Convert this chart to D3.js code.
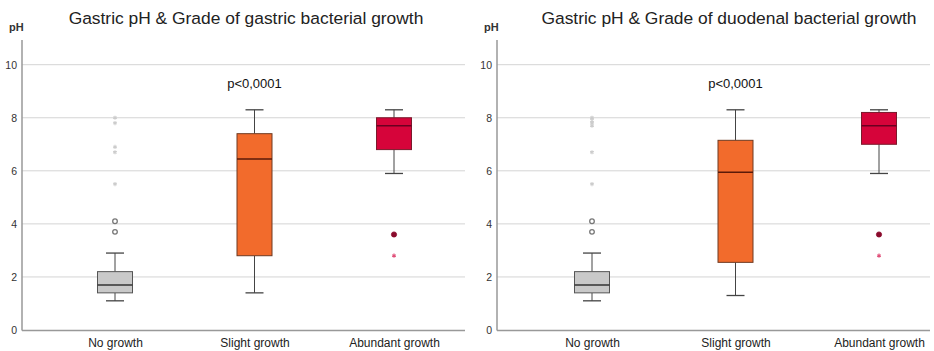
<!DOCTYPE html>
<html>
<head>
<meta charset="utf-8">
<script src="https://cdn.jsdelivr.net/npm/d3@7"></script>
<style>
  body { margin: 0; background: #fff; }
  text { font-family: "Liberation Sans", Arial, sans-serif; }
</style>
</head>
<body>
<div id="chart"></div>
<script>
// categories and tick labels
const categories = ["No growth", "Slight growth", "Abundant growth"];
const yTicks = [0, 2, 4, 6, 8, 10];
const titles = ["Gastric pH & Grade of gastric bacterial growth",
                "Gastric pH & Grade of duodenal bacterial growth"];
const pLabel = "p<0,0001";

// box stats per category: [whiskerLow, q1, median, q3, whiskerHigh]
const gastricBoxes = [
  [1.1, 1.4, 1.7, 2.2, 2.9],
  [1.4, 2.8, 6.45, 7.4, 8.3],
  [5.9, 6.8, 7.7, 8.0, 8.3]
];
const duodenalBoxes = [
  [1.1, 1.4, 1.7, 2.2, 2.9],
  [1.3, 2.55, 5.95, 7.15, 8.3],
  [5.9, 7.0, 7.7, 8.2, 8.3]
];
// outliers (circles) and extremes (stars)
const gastricOutliers = [[4.1, 3.7], [], [3.6]];
const gastricExtremes = [[8.0, 7.8, 6.9, 6.7, 5.5], [], [2.8]];
const duodenalOutliers = [[4.1, 3.7], [], [3.6]];
const duodenalExtremes = [[8.0, 7.9, 7.8, 7.7, 6.7, 5.5], [], [2.8]];

const boxFill = ["#c9c9c9", "#f26b2c", "#d6043a"];
const boxStroke = ["#555", "#6e3a22", "#7a1a2c"];
const medianStroke = ["#333", "#5a1a08", "#6a0020"];
const outlierColor = ["#777", "#777", "#8a0a2c"];
const extremeColor = ["#ccc", "#ccc", "#e0507a"];

const width = 934, height = 351;
const svg = d3.select("#chart").append("svg")
  .attr("width", width).attr("height", height);

const y = d3.scaleLinear().domain([0, 10]).range([330, 64.7]);

function drawPanel(ox, gridEnd, xFirst, xStep, title, titleX, boxes, outliers, extremes) {
  const g = svg.append("g");
  const x = d3.scalePoint().domain(categories)
    .range([xFirst, xFirst + 2 * xStep]);

  // gridlines
  g.append("g").selectAll("line").data(yTicks.filter(d => d > 0)).join("line")
    .attr("x1", ox).attr("x2", gridEnd)
    .attr("y1", d => y(d)).attr("y2", d => y(d))
    .attr("stroke", "#d4d4d4").attr("stroke-width", 1);

  // y axis
  const ya = g.append("g").attr("transform", `translate(${ox},0)`)
    .call(d3.axisLeft(y).tickValues(yTicks).tickSize(0).tickPadding(5));
  ya.select(".domain").remove();
  ya.selectAll("text").attr("font-size", 10.5).attr("fill", "#333");
  g.append("line").attr("x1", ox).attr("x2", ox).attr("y1", 40).attr("y2", 330.5)
    .attr("stroke", "#999").attr("stroke-width", 1.5);
  g.append("line").attr("x1", ox).attr("x2", gridEnd).attr("y1", 330.5).attr("y2", 330.5)
    .attr("stroke", "#999").attr("stroke-width", 1.5);

  // x axis labels
  const xa = g.append("g").attr("transform", "translate(0,330)")
    .call(d3.axisBottom(x).tickSize(0).tickPadding(8));
  xa.select(".domain").remove();
  xa.selectAll("text").attr("font-size", 12).attr("fill", "#222");

  // pH label + title
  g.append("text").attr("x", ox - 13).attr("y", 31)
    .attr("font-size", 11).attr("font-weight", "bold").attr("fill", "#333").text("pH");
  g.append("text").attr("x", titleX).attr("y", 24).attr("text-anchor", "middle")
    .attr("font-size", 17.4).attr("fill", "#222").text(title);
  g.append("text").attr("x", x("Slight growth")).attr("y", 88).attr("text-anchor", "middle")
    .attr("font-size", 13).attr("fill", "#111").text(pLabel);

  const bw = 35, cap = 18;
  categories.forEach((c, i) => {
    const [lo, q1, med, q3, hi] = boxes[i];
    const cx = x(c);
    const bg = g.append("g");
    bg.append("line").attr("x1", cx).attr("x2", cx).attr("y1", y(hi)).attr("y2", y(q3))
      .attr("stroke", "#444");
    bg.append("line").attr("x1", cx).attr("x2", cx).attr("y1", y(q1)).attr("y2", y(lo))
      .attr("stroke", "#444");
    bg.selectAll(".cap").data([lo, hi]).join("line")
      .attr("x1", cx - cap / 2).attr("x2", cx + cap / 2)
      .attr("y1", d => y(d)).attr("y2", d => y(d))
      .attr("stroke", "#444").attr("stroke-width", 1.3);
    bg.append("rect").attr("x", cx - bw / 2).attr("width", bw)
      .attr("y", y(q3)).attr("height", y(q1) - y(q3))
      .attr("fill", boxFill[i]).attr("stroke", boxStroke[i]);
    bg.append("line").attr("x1", cx - bw / 2).attr("x2", cx + bw / 2)
      .attr("y1", y(med)).attr("y2", y(med))
      .attr("stroke", medianStroke[i]).attr("stroke-width", 1.5);

    bg.selectAll(".out").data(outliers[i]).join("circle")
      .attr("cx", cx).attr("cy", d => y(d)).attr("r", i === 2 ? 2.6 : 2.3)
      .attr("fill", i === 2 ? outlierColor[i] : "none")
      .attr("stroke", outlierColor[i]).attr("stroke-width", i === 2 ? 0.8 : 1.3);
    bg.selectAll(".ext").data(extremes[i]).join("path")
      .attr("transform", d => `translate(${cx},${y(d)})`)
      .attr("d", d3.symbol(d3.symbolAsterisk, 12))
      .attr("stroke", extremeColor[i]).attr("stroke-width", 1.1).attr("fill", "none");
  });
}

drawPanel(22, 465, 115, 139.5, titles[0], 246, gastricBoxes, gastricOutliers, gastricExtremes);
drawPanel(497, 930, 592, 143.5, titles[1], 729, duodenalBoxes, duodenalOutliers, duodenalExtremes);
</script>
</body>
</html>
